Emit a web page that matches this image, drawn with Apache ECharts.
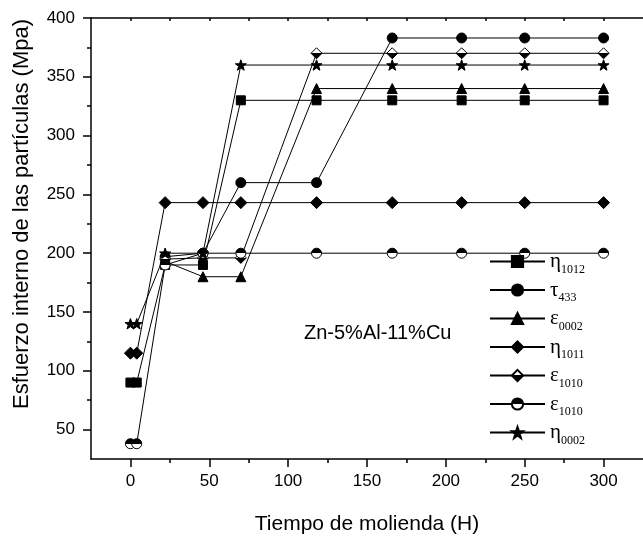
<!DOCTYPE html>
<html>
<head>
<meta charset="utf-8">
<title>Esfuerzo interno</title>
<script src="https://cdn.jsdelivr.net/npm/echarts@6/dist/echarts.min.js"></script>
<style>
  html, body { margin: 0; padding: 0; background: #fff; }
  #main { width: 643px; height: 540px; }
</style>
</head>
<body>
<div id="main"></div>
<script>
// tiempo de molienda (H)
var tiempos = [0, 4, 22, 46, 70, 118, 166, 210, 250, 300];

var eta1012 = [90, 90, 190, 190, 330, 330, 330, 330, 330, 330];
var tau433 = [null, null, 197, 200, 260, 260, 383, 383, 383, 383];
var eps0002 = [null, null, 193, 180, 180, 340, 340, 340, 340, 340];
var eta1011 = [115, 115, 243, 243, 243, 243, 243, 243, 243, 243];
var eps1010a = [null, null, 195, 196, 196, 370, 370, 370, 370, 370];
var eps1010b = [38, 38, 190, 200, 200, 200, 200, 200, 200, 200];
var eta0002 = [140, 140, 200, 200, 360, 360, 360, 360, 360, 360];

var nombres = ['eta1012', 'tau433', 'eps0002', 'eta1011', 'eps1010a', 'eps1010b', 'eta0002'];
var letras = ['η', 'τ', 'ε', 'η', 'ε', 'ε', 'η'];
var subindices = ['1012', '433', '0002', '1011', '1010', '1010', '0002'];

var xLabels = [0, 50, 100, 150, 200, 250, 300];
var xMinor = [25, 75, 125, 175, 225, 275];
var yLabels = [50, 100, 150, 200, 250, 300, 350, 400];
var yMinor = [75, 125, 175, 225, 275, 325, 375];

var myChart = echarts.init(document.getElementById('main'));

var star = 'path://M0,-10L2.35,-3.24L9.51,-3.09L3.8,1.24L5.88,8.09L0,4L-5.88,8.09L-3.8,1.24L-9.51,-3.09L-2.35,-3.24Z';

// relleno mitad/mitad para los simbolos semillenos
function mitad(arriba, abajo) {
    return {
        type: 'linear', x: 0, y: 0, x2: 0, y2: 1,
        colorStops: [
            { offset: 0, color: arriba }, { offset: 0.5, color: arriba },
            { offset: 0.5, color: abajo }, { offset: 1, color: abajo }
        ]
    };
}

var simbolos = [
    { symbol: 'rect', size: 9, color: '#000' },
    { symbol: 'circle', size: 10, color: '#000' },
    { symbol: 'triangle', size: 10, color: '#000' },
    { symbol: 'diamond', size: 12, color: '#000' },
    { symbol: 'diamond', size: 11, color: mitad('#fff', '#000') },
    { symbol: 'circle', size: 10, color: mitad('#000', '#fff') },
    { symbol: star, size: 11, color: '#000' }
];

var valores = [eta1012, tau433, eps0002, eta1011, eps1010a, eps1010b, eta0002];

function pares(vals) {
    var out = [];
    for (var i = 0; i < tiempos.length; i++) {
        if (vals[i] !== null) out.push([tiempos[i], vals[i]]);
    }
    return out;
}

var series = valores.map(function (v, i) {
    return {
        name: nombres[i],
        type: 'line',
        data: pares(v),
        symbol: simbolos[i].symbol,
        symbolSize: simbolos[i].size,
        symbolKeepAspect: true,
        showSymbol: true,
        itemStyle: { color: simbolos[i].color, borderColor: '#000', borderWidth: 1, opacity: 1 },
        lineStyle: { color: '#000', width: 1 },
        emphasis: { disabled: true }
    };
});

var ejeFuente = { color: '#000', fontFamily: 'Liberation Sans', fontSize: 17 };

var option = {
    animation: false,
    backgroundColor: '#fff',
    grid: { left: 91, top: 18, width: 559, height: 451 },
    legend: {
        orient: 'vertical',
        left: 484,
        top: 246,
        itemWidth: 55,
        itemHeight: 14,
        itemGap: 4,
        data: nombres,
        formatter: function (name) {
            var i = nombres.indexOf(name);
            return '{a|' + letras[i] + '}{b|' + subindices[i] + '}';
        },
        textStyle: {
            rich: {
                a: { fontFamily: 'Liberation Serif', fontSize: 21, lineHeight: 28, color: '#000' },
                b: { fontFamily: 'Liberation Serif', fontSize: 12, lineHeight: 12, verticalAlign: 'bottom', color: '#000' }
            }
        }
    },
    xAxis: [
        {
            type: 'value', position: 'bottom', min: -25, max: 325,
            name: 'Tiempo de molienda (H)', nameLocation: 'middle', nameGap: 55,
            nameTextStyle: { color: '#000', fontFamily: 'Liberation Sans', fontSize: 21 },
            axisLine: { onZero: false, lineStyle: { color: '#000', width: 1.5 } },
            axisTick: { customValues: xLabels, length: 8, lineStyle: { color: '#000', width: 1.5 } },
            axisLabel: Object.assign({ customValues: xLabels, margin: 14 }, ejeFuente),
            splitLine: { show: false }
        },
        {
            type: 'value', position: 'bottom', min: -25, max: 325,
            axisLine: { show: false, onZero: false },
            axisTick: { customValues: xMinor, length: 4, lineStyle: { color: '#000', width: 1.5 } },
            axisLabel: { show: false },
            splitLine: { show: false }
        },
        {
            type: 'value', position: 'top', min: -25, max: 325,
            axisLine: { onZero: false, lineStyle: { color: '#000', width: 1.5 } },
            axisTick: { inside: true, customValues: xLabels.concat(xMinor), length: 3, lineStyle: { color: '#000', width: 1.5 } },
            axisLabel: { show: false },
            splitLine: { show: false }
        }
    ],
    yAxis: [
        {
            type: 'value', position: 'left', min: 25, max: 400,
            axisLine: { onZero: false, lineStyle: { color: '#000', width: 1.5 } },
            axisTick: { customValues: yLabels, length: 8, lineStyle: { color: '#000', width: 1.5 } },
            axisLabel: Object.assign({ customValues: yLabels, margin: 16 }, ejeFuente),
            splitLine: { show: false }
        },
        {
            type: 'value', position: 'left', min: 25, max: 400,
            axisLine: { show: false, onZero: false },
            axisTick: { customValues: yMinor, length: 4, lineStyle: { color: '#000', width: 1.5 } },
            axisLabel: { show: false },
            splitLine: { show: false }
        }
    ],
    graphic: [
        {
            type: 'text', x: 22, y: 214, rotation: Math.PI / 2,
            style: {
                text: 'Esfuerzo interno de las partículas (Mpa)', fill: '#000',
                font: '22px "Liberation Sans"', align: 'center', verticalAlign: 'middle'
            }
        },
        {
            type: 'text', x: 304, y: 333,
            style: {
                text: 'Zn-5%Al-11%Cu', fill: '#000',
                font: '20px "Liberation Sans"', align: 'left', verticalAlign: 'middle'
            }
        }
    ],
    series: series
};

myChart.setOption(option);
</script>
</body>
</html>
